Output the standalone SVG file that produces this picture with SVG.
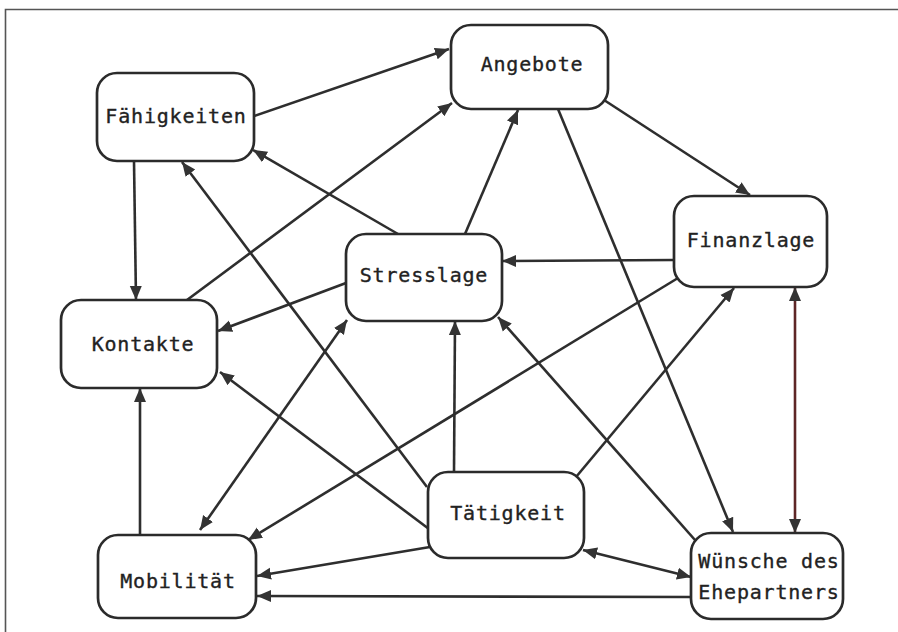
<svg xmlns="http://www.w3.org/2000/svg" width="898" height="632" viewBox="0 0 898 632">
<style>
.node rect{fill:#fff;stroke:#2b2b2b;stroke-width:2.7}
.node text{font-family:"DejaVu Sans Mono","Liberation Mono",monospace;font-size:20px;letter-spacing:0.8px;fill:#222;stroke:#222;stroke-width:0.35;text-anchor:middle}
.edges path{fill:none;stroke:#2e2e2e;stroke-width:2.6;marker-end:url(#ah)}
.edges path.both{marker-start:url(#ah)}
.edges path.red{stroke:#5e2626}
</style>
<defs>
<marker id="ah" markerUnits="userSpaceOnUse" markerWidth="16" markerHeight="14" refX="14" refY="7" orient="auto-start-reverse">
<path d="M0,1 L14,7 L0,13 z" fill="#333"/>
</marker>
</defs>
<rect x="0" y="0" width="898" height="632" fill="#fff"/>
<path d="M5.5,640 L5.5,9.5 L900,9.5" fill="none" stroke="#555" stroke-width="1.6"/>
<g class="edges">
<path d="M254,116 L449,49"/>
<path d="M187,300 L452,103"/>
<path d="M398,234 L253,150"/>
<path d="M427,487 L182,162"/>
<path d="M429,529 L220,372"/>
<path d="M134,161 L136,300"/>
<path d="M346,283 L218,331"/>
<path d="M465,234 L518,110"/>
<path d="M558,109 L733,532"/>
<path d="M604,100 L750,195"/>
<path d="M674,260 L502,261"/>
<path d="M678,278 L248,540"/>
<path d="M576,477 L734,288"/>
<path class="both red" d="M795,287 L795,533"/>
<path class="both" d="M347,320 L200,530"/>
<path d="M140,535 L140,388"/>
<path d="M454,472 L455,321"/>
<path d="M430,547 L257,576"/>
<path d="M691,597 L257,596"/>
<path class="both" d="M583,550 L691,577"/>
<path d="M695,540 L498,317"/>
</g>
<g id="faehigkeiten" class="node"><rect x="97" y="73" width="157" height="88" rx="20"/><text x="176" y="123">Fähigkeiten</text></g>
<g id="angebote" class="node"><rect x="451" y="25" width="157" height="84" rx="20"/><text x="532" y="71">Angebote</text></g>
<g id="finanzlage" class="node"><rect x="674" y="196" width="153" height="91" rx="20"/><text x="751" y="247">Finanzlage</text></g>
<g id="stresslage" class="node"><rect x="346" y="234" width="156" height="87" rx="20"/><text x="424" y="282">Stresslage</text></g>
<g id="kontakte" class="node"><rect x="61" y="300" width="156" height="88" rx="20"/><text x="143" y="351">Kontakte</text></g>
<g id="mobilitaet" class="node"><rect x="98" y="535" width="158" height="83" rx="20"/><text x="178" y="588">Mobilität</text></g>
<g id="taetigkeit" class="node"><rect x="428" y="472" width="156" height="86" rx="20"/><text x="508" y="520">Tätigkeit</text></g>
<g id="wuensche" class="node"><rect x="691" y="533" width="152" height="86" rx="20"/><text x="769" y="568">Wünsche des</text><text x="769" y="599">Ehepartners</text></g>
</svg>
